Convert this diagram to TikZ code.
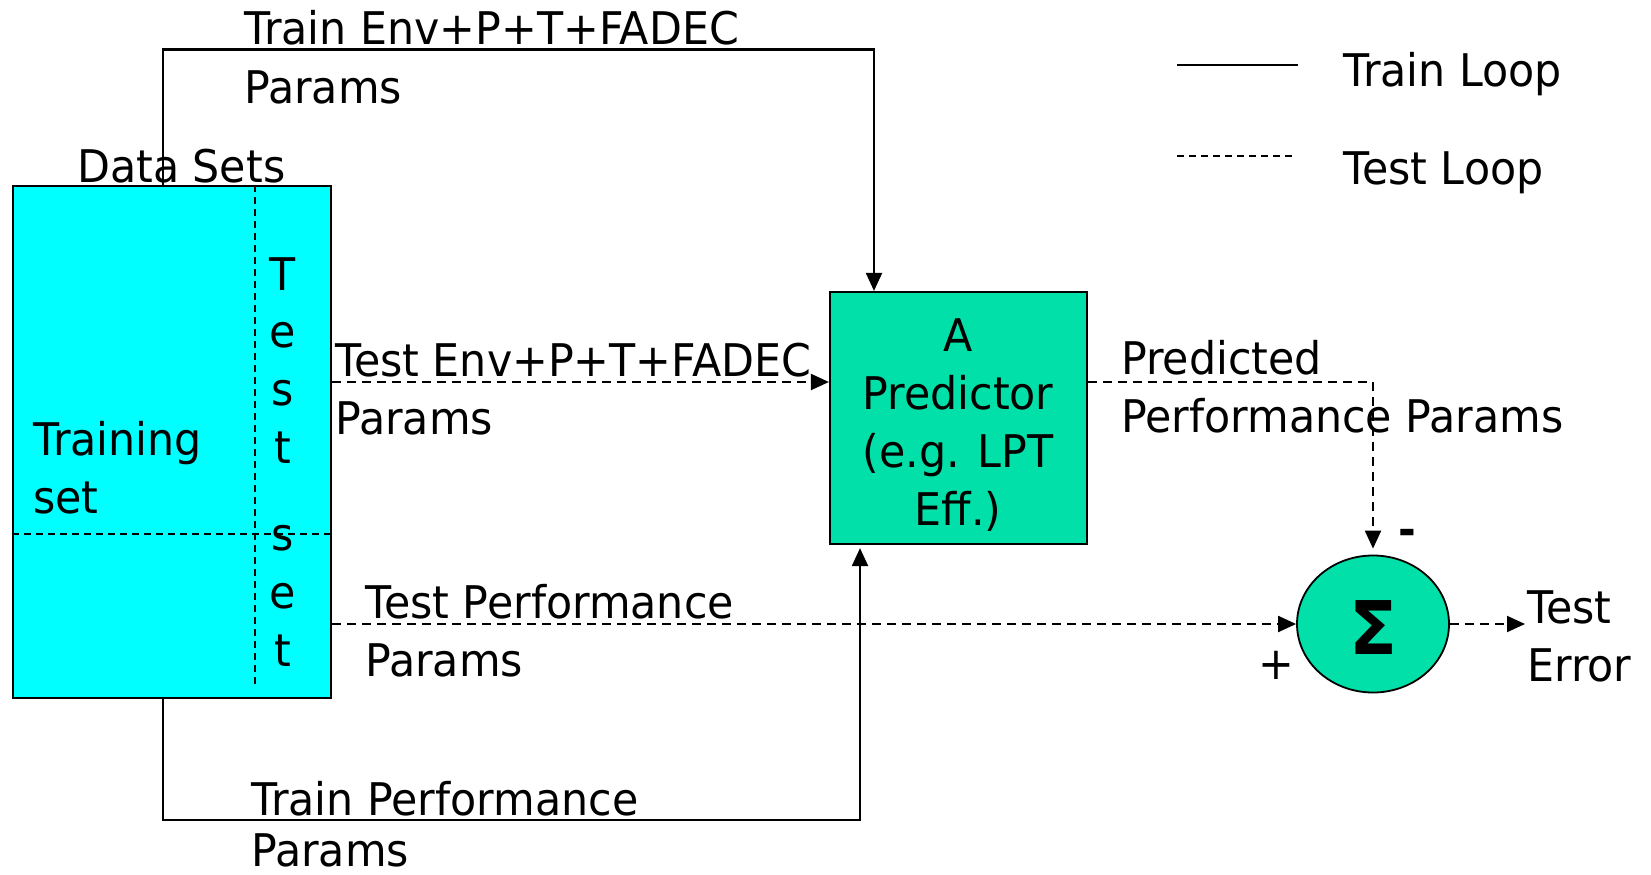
\documentclass[tikz,border=0pt]{standalone}
\usepackage{fontspec}
\setmainfont{DejaVu Sans}[FakeStretch=0.95]
\usetikzlibrary{arrows.meta,shapes.geometric}
\definecolor{boxcyan}{RGB}{0,255,255}
\definecolor{mint}{RGB}{0,224,168}
\begin{document}
\begin{tikzpicture}[x=1pt,y=-1pt,
  font=\fontsize{45}{58}\selectfont,
  lbl/.style={inner sep=0pt,anchor=base west},
  ctr/.style={inner sep=0pt,anchor=base},
  blk/.style={draw=black,line width=2.2pt,inner sep=0pt},
  trainln/.style={draw=black,line width=2.1pt},
  testln/.style={draw=black,line width=2.1pt,dash pattern=on 9pt off 6pt},
  arr/.style={-{Triangle[length=18pt,width=16pt]}},
  innerdash/.style={draw=black,line width=1.6pt,dash pattern=on 7pt off 5pt}]
\useasboundingbox (0,0) rectangle (1651,875);

% blocks
\node[blk,fill=boxcyan,minimum width=318pt,minimum height=512pt] (data) at (171.9,442) {};
\node[blk,fill=mint,minimum width=257pt,minimum height=252pt] (pred) at (958.5,418) {};
\node[draw=black,line width=1.8pt,fill=mint,ellipse,minimum width=152pt,minimum height=137pt,inner sep=0pt] (sum) at (1373,624) {};
\node[inner sep=0pt] (sigma) at (1373,628) {\fontsize{74}{74}\selectfont\bfseries Σ};

% inner dashed split of the data box
\coordinate (vx) at (255,684);
\coordinate (hy) at (0,534);
\draw[innerdash] (data.north -| vx) -- (vx);
\draw[innerdash] (data.west |- hy) -- (data.east |- hy);

% helper coordinates
\coordinate (tl) at (163,49.5);
\coordinate (tr) at (874,49.5);
\coordinate (bl) at (163,820);
\coordinate (br) at (860,820);
\coordinate (yenv) at (0,382);
\coordinate (errend) at (1525,624);

% train loop (solid)
\draw[trainln,arr] (data.north -| tl) -- (tl) -- (tr) -- (pred.north -| tr);
\draw[trainln,arr,shorten >=3pt] (data.south -| bl) -- (bl) -- (br) -- (pred.south -| br);

% test loop (dashed)
\draw[testln,arr] (data.east |- yenv) -- (pred.west |- yenv);
\draw[testln,arr,shorten >=6pt] (pred.east |- yenv) -| (sum.north);
\draw[testln,arr] (data.east |- sum.west) -- (sum.west);
\draw[testln,arr] (sum.east) -- (errend);

% legend
\coordinate (l1a) at (1177,65);
\coordinate (l1b) at (1298,65);
\coordinate (l2a) at (1177,156);
\coordinate (l2b) at (1293,156);
\draw[draw=black,line width=1.8pt] (l1a) -- (l1b);
\draw[draw=black,line width=1.5pt,dash pattern=on 7pt off 5pt] (l2a) -- (l2b);
\node[lbl] (lg1) at (1343,86) {Train Loop};
\node[lbl] (lg2) at (1343,184) {Test Loop};

% labels
\node[lbl] (t1a) at (244,45) {Train Env+P+T+FADEC};
\node[lbl] (t1b) at (244,103) {Params};
\node[lbl] (ds) at (77,182) {Data Sets};
\node[lbl] (tr1) at (33,455) {Training};
\node[lbl] (tr2) at (33,513) {set};
\node[ctr] (ts1) at (283,290) {T};
\node[ctr] (ts2) at (283,347) {e};
\node[ctr] (ts3) at (283,405) {s};
\node[ctr] (ts4) at (283,463) {t};
\node[ctr] (ts5) at (283,550) {s};
\node[ctr] (ts6) at (283,608) {e};
\node[ctr] (ts7) at (283,666) {t};
\node[lbl] (te1) at (335,376) {Test Env+P+T+FADEC};
\node[lbl] (te2) at (335,434) {Params};
\node[lbl] (tp1) at (365,618) {Test Performance};
\node[lbl] (tp2) at (365,676) {Params};
\node[lbl] (trp1) at (251,815) {Train Performance};
\node[lbl] (trp2) at (251,866) {Params};
\node[ctr] (p1) at (958,351) {A};
\node[ctr] (p2) at (958,409) {Predictor};
\node[ctr] (p3) at (958,467) {(e.g. LPT};
\node[ctr] (p4) at (958,525) {Eff.)};
\node[lbl] (pp1) at (1121,374) {Predicted};
\node[lbl] (pp2) at (1121,432) {Performance Params};
\node[inner sep=0pt] (minus) at (1407,537) {\bfseries -};
\node[inner sep=0pt] (plus) at (1276,665) {+};
\node[lbl] (e1) at (1527,623) {Test};
\node[lbl] (e2) at (1527,681) {Error};
\end{tikzpicture}
\end{document}
